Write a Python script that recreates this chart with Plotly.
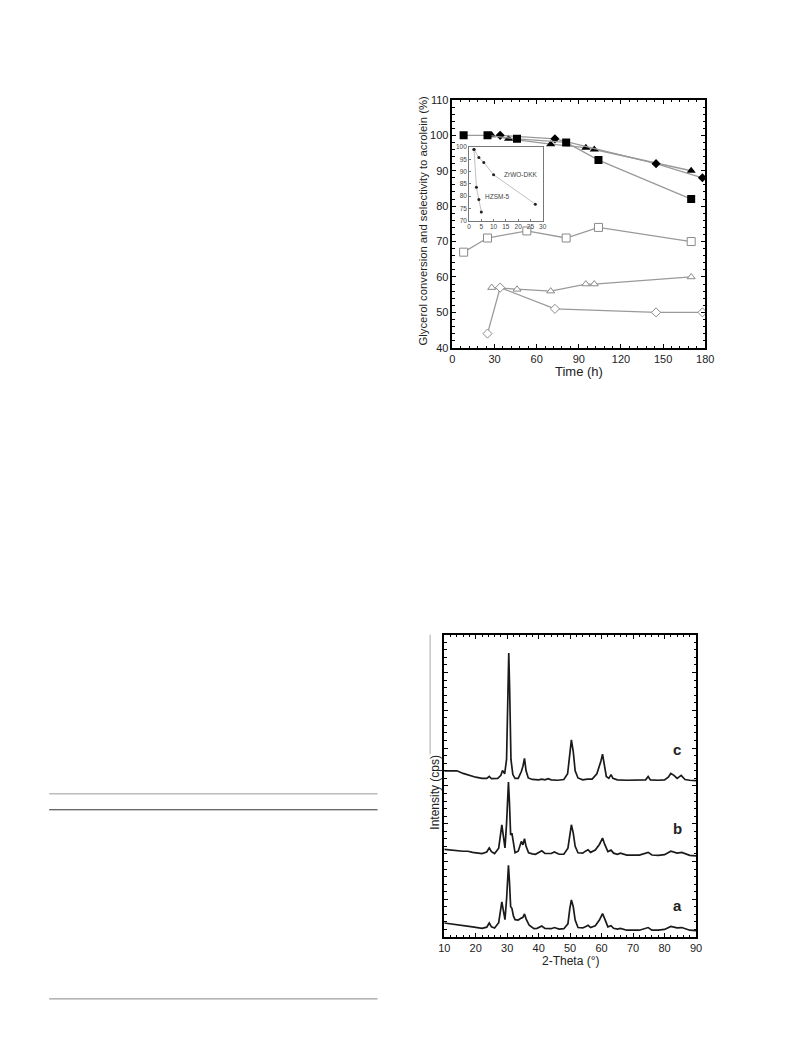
import plotly.graph_objects as go

# ---------------- top chart data ----------------
sq_t = [8, 25, 46, 81, 104, 170]
sq_y = [100, 100, 99, 98, 93, 82]
tri_t = [28, 40, 70, 95, 101, 170]
tri_y = [100, 99, 97.5, 96.5, 96, 90]
dia_t = [34, 73, 145, 178]
dia_y = [100, 99, 92, 88]

osq_t = [8, 25, 53, 81, 104, 170]
osq_y = [67, 71, 73, 71, 74, 70]
otri_t = [28, 46, 70, 95, 101, 170]
otri_y = [57, 56.5, 56, 58, 58, 60]
odia_t = [25, 34, 73, 145, 178]
odia_y = [44, 57, 51, 50, 50]

# inset
zr_t = [2, 4, 6, 10, 27]
zr_y = [99, 95.7, 93.7, 88.7, 76.7]
hz_t = [2, 3, 4, 5]
hz_y = [99, 83.6, 78.6, 73.5]

# ---------------- XRD data ----------------
c_x = [10, 12, 14, 16, 18, 20, 22, 23.5, 24.3, 25, 27, 28, 28.5, 29.2, 29.8, 30.2, 30.5, 30.8, 31.2, 31.8,
       32.5, 33.5, 34.5, 35, 35.5, 36, 36.7, 38, 40, 41, 42, 43, 44, 46, 48, 49.2, 49.8, 50.4, 51, 51.6,
       52.5, 54, 55.5, 57, 58.5, 59.3, 59.8, 60.3, 60.8, 61.5, 62.3, 63, 63.6, 65, 68, 72, 74, 74.8, 75.5,
       78, 80, 81.2, 82, 83, 84, 85.3, 86.5, 88, 90]
c_y = [440, 441, 440, 433, 427, 423, 420, 420, 425, 419, 420, 428, 441, 432, 470, 650, 752, 650, 470, 430,
       420, 420, 438, 452, 473, 440, 421, 417, 416, 418, 416, 419, 416, 415, 417, 432, 485, 522, 490, 440,
       421, 416, 418, 418, 432, 452, 466, 484, 455, 425, 420, 430, 420, 416, 415, 415, 416, 425, 416,
       415, 416, 423, 433, 428, 420, 428, 417, 415, 414]

b_x = [10, 12, 14, 16, 17.5, 19, 22, 23.5, 24.3, 25, 26, 27.3, 28.3, 28.9, 29.3, 29.8, 30.1, 30.4, 30.7,
       31.1, 31.5, 32, 32.5, 33.5, 34.5, 35, 35.5, 36, 36.8, 38, 39, 41, 42, 44, 45, 46.5, 48, 49.3, 49.9,
       50.4, 51, 51.6, 52.5, 54, 55, 55.7, 56.5, 58, 59.3, 60.3, 61, 62, 63, 63.8, 65, 66, 68, 72, 74.8,
       76, 78, 80, 82, 84, 85.5, 87, 88, 90]
b_y = [232, 230, 228, 227, 227, 224, 221, 225, 236, 226, 221, 235, 297, 260, 236, 300, 380, 410, 360,
       270, 275, 245, 223, 227, 253, 244, 260, 240, 223, 220, 219, 228, 221, 221, 225, 219, 219, 235, 275,
       297, 275, 240, 223, 222, 228, 231, 224, 230, 245, 262, 245, 226, 230, 222, 219, 222, 217, 217, 224,
       217, 216, 218, 227, 222, 224, 218, 216, 215]

a_x = [10, 12, 14, 16, 17.5, 19, 22, 23.5, 24.3, 25, 26, 27.3, 28.3, 28.9, 29.3, 29.8, 30.1, 30.4, 30.7,
       31.1, 31.5, 32, 32.5, 33.5, 34.5, 35, 35.5, 36, 37, 38.5, 39.5, 41, 42, 44, 45, 46.5, 48, 49.3, 49.9,
       50.4, 51, 51.6, 52.5, 54, 55, 55.7, 56.5, 58, 59.3, 60.3, 61, 62, 63, 63.8, 65, 66, 68, 72, 74.8,
       76, 78, 80, 82, 84, 85.5, 87, 88, 90]
a_y = [37, 35, 33, 31, 30, 27, 23, 26, 37, 27, 24, 38, 93, 60, 46, 100, 165, 190, 150,
       80, 76, 55, 46, 45, 50, 52, 61, 48, 31, 22, 23, 29, 23, 22, 25, 21, 22, 35, 75,
       98, 80, 45, 25, 24, 28, 31, 25, 30, 45, 62, 48, 27, 30, 23, 21, 23, 18, 18, 25,
       18, 18, 20, 28, 24, 25, 20, 18, 17]

# ---------------- text ----------------
top_xtitle = "Time (h)"
top_ytitle = "Glycerol conversion and selectivity to acrolein (%)"
bot_xtitle = "2-Theta (°)"
bot_ytitle = "Intensity (cps)"
curve_labels = ["a", "b", "c"]

W, H = 793, 1057
def px(x):
    return x / W
def py(y):
    return 1 - y / H

FONT = "Liberation Sans, Arial, sans-serif"
LINE = "#9a9a9a"
OPEN = "#8a8a8a"

fig = go.Figure()

def add(t, y, sym, filled, size=8):
    if filled:
        mk = dict(symbol=sym, size=size, color="black", line=dict(width=0))
    else:
        mk = dict(symbol=sym, size=size, color="white", line=dict(color=OPEN, width=1))
    fig.add_trace(go.Scatter(x=t, y=y, mode="lines+markers", xaxis="x", yaxis="y",
                             line=dict(color=LINE, width=1.3), marker=mk, showlegend=False))

add(osq_t, osq_y, "square", False, 8)
add(otri_t, otri_y, "triangle-up", False, 7)
add(odia_t, odia_y, "diamond", False, 7)
add(tri_t, tri_y, "triangle-up", True, 8)
add(dia_t, dia_y, "diamond", True, 7)
add(sq_t, sq_y, "square", True, 8)

# inset
for t, y in [(zr_t, zr_y), (hz_t, hz_y)]:
    fig.add_trace(go.Scatter(x=t, y=y, mode="lines+markers", xaxis="x2", yaxis="y2",
                             line=dict(color="#b0b0b0", width=0.8),
                             marker=dict(symbol="circle", size=3, color="#222"), showlegend=False))

# XRD
for xs, ys in [(a_x, a_y), (b_x, b_y), (c_x, c_y)]:
    fig.add_trace(go.Scatter(x=xs, y=ys, mode="lines", xaxis="x3", yaxis="y3",
                             line=dict(color="#1a1a1a", width=1.7), showlegend=False))

axis_common = dict(showgrid=False, zeroline=False, showline=True, linecolor="black", linewidth=1.5,
                   mirror="allticks", ticks="inside", tickcolor="black", ticklen=4, tickwidth=1,
                   tickfont=dict(family=FONT, size=11, color="#222"))

fig.update_layout(
    width=W, height=H, margin=dict(l=0, r=0, t=0, b=0),
    paper_bgcolor="white", plot_bgcolor="white",
    xaxis=dict(domain=[px(455), px(712.7)], range=[0, 180], dtick=30, tick0=0, anchor="y",
               minor=dict(dtick=6, ticklen=2.5, ticks="inside", tickcolor="black"), **axis_common),
    yaxis=dict(domain=[py(345.7), py(95)], range=[40, 110], dtick=10, anchor="x",
               minor=dict(dtick=2, ticklen=2.5, ticks="inside", tickcolor="black"), **axis_common),
    xaxis2=dict(domain=[px(472), px(547)], range=[0, 30], dtick=5, anchor="y2",
                showgrid=False, zeroline=False, showline=True, linecolor="#777", linewidth=0.8,
                mirror=True, ticks="inside", ticklen=2, tickcolor="#777",
                tickfont=dict(family=FONT, size=6.5, color="#444")),
    yaxis2=dict(domain=[py(217), py(142.7)], range=[70, 100], dtick=5, anchor="x2",
                showgrid=False, zeroline=False, showline=True, linecolor="#777", linewidth=0.8,
                mirror=True, ticks="inside", ticklen=2, tickcolor="#777",
                tickfont=dict(family=FONT, size=6.5, color="#444")),
    xaxis3=dict(domain=[px(446.7), px(703.3)], range=[10, 90], dtick=10, anchor="y3",
                minor=dict(dtick=2, ticklen=2.5, ticks="inside", tickcolor="black"), **axis_common),
    yaxis3=dict(domain=[py(941.7), py(636)], range=[0, 800], dtick=100, anchor="x3",
                showticklabels=False,
                minor=dict(dtick=20, ticklen=2.5, ticks="inside", tickcolor="black"),
                **{k: v for k, v in axis_common.items() if k != "tickfont"}),
)

def note(text, x, y, size, angle=0, xref="paper", yref="paper", xanchor="center", color="#222"):
    return dict(text=text, x=x, y=y, xref=xref, yref=yref, showarrow=False, textangle=angle,
                xanchor=xanchor, yanchor="middle", font=dict(family=FONT, size=size, color=color))

ann = [
    note(top_xtitle, px(584), py(369.5), 13),
    note(top_ytitle, px(425), py(217), 11.3, angle=-90),
    note("ZrWO-DKK", 13.5, 89, 6.5, xref="x2", yref="y2", xanchor="left", color="#444"),
    note("HZSM-5", 5.5, 80, 6.5, xref="x2", yref="y2", xanchor="left", color="#444"),
    note(bot_xtitle, px(575), py(966), 12),
    note(bot_ytitle, px(437), py(795), 12, angle=-90),
]
for lab, yv in zip(curve_labels, [910, 832.3, 751.7]):
    ann.append(note("<b>%s</b>" % lab, px(684.3), py(yv), 15))
fig.update_layout(annotations=ann)

shapes = [
    dict(type="line", xref="paper", yref="paper", x0=px(44), x1=px(378.7), y0=py(796.7), y1=py(796.7),
         line=dict(color="#bbbbbb", width=1.5)),
    dict(type="line", xref="paper", yref="paper", x0=px(44), x1=px(378.7), y0=py(813), y1=py(813),
         line=dict(color="#333333", width=1)),
    dict(type="line", xref="paper", yref="paper", x0=px(44), x1=px(378.7), y0=py(1004.3), y1=py(1004.3),
         line=dict(color="#888888", width=1)),
    dict(type="line", xref="paper", yref="paper", x0=px(432.3), x1=px(432.3), y0=py(636), y1=py(757),
         line=dict(color="#aaaaaa", width=1)),
]
fig.update_layout(shapes=shapes)

fig.write_html("out.html", config={"displayModeBar": False},
               post_script="document.body.style.margin='0px';document.body.style.overflow='hidden';")
